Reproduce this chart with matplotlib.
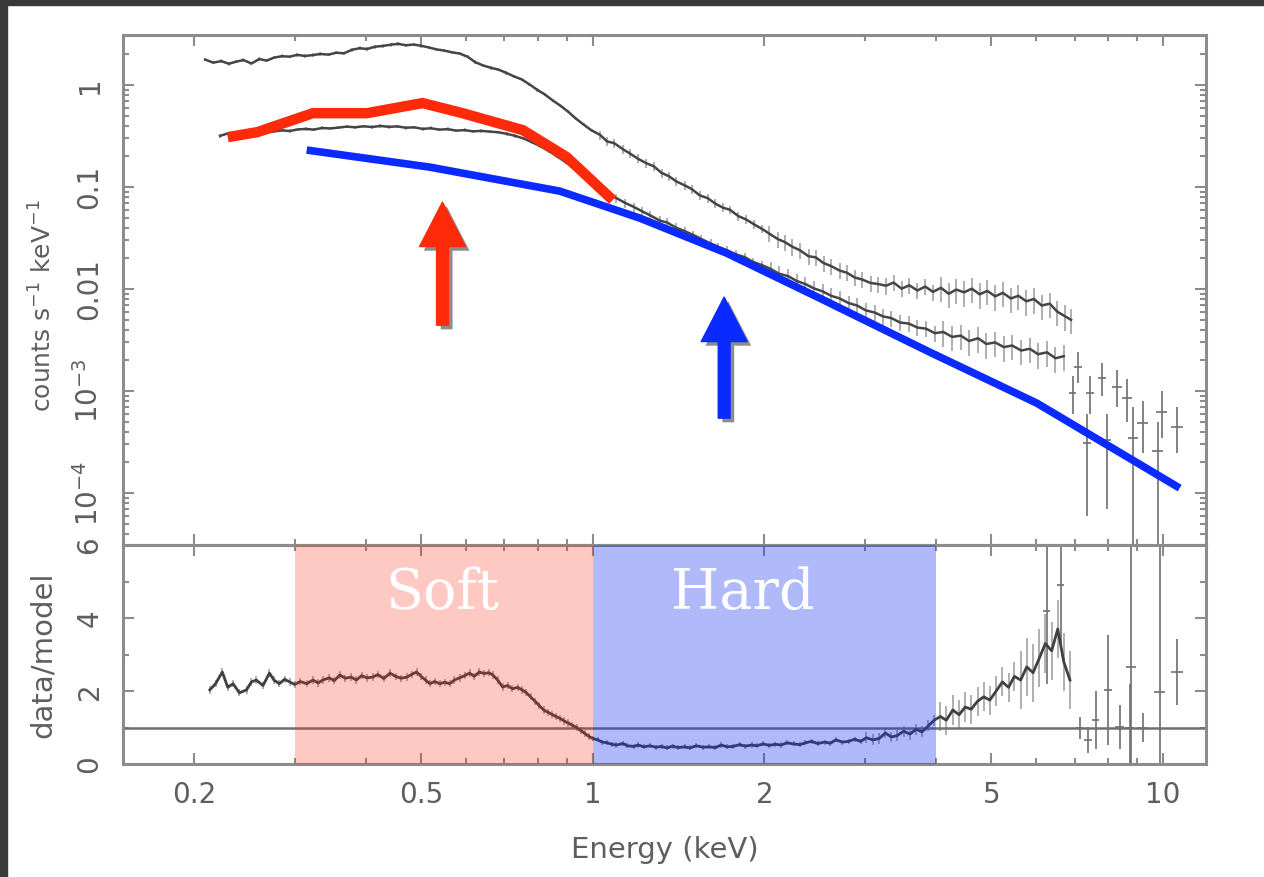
import numpy as np
import matplotlib
matplotlib.use("Agg")
import matplotlib.pyplot as plt
import matplotlib.patheffects as pe
from matplotlib.patches import Rectangle
from matplotlib.ticker import FixedLocator, FixedFormatter, LogLocator, MultipleLocator, NullFormatter

plt.rcParams["font.family"] = ["DejaVu Sans"]
plt.rcParams["mathtext.default"] = "regular"

# --- spectrum 1 (upper, counts s^-1 keV^-1) ---
up_e = [0.209, 0.216, 0.223, 0.230, 0.237, 0.244, 0.252, 0.260, 0.268, 0.276, 0.285, 0.294,
        0.303, 0.313, 0.323, 0.333, 0.344, 0.355, 0.366, 0.378, 0.390, 0.402, 0.415, 0.428,
        0.442, 0.456, 0.470, 0.485, 0.500, 0.516, 0.532, 0.549, 0.566, 0.584, 0.603, 0.622,
        0.642, 0.662, 0.683, 0.705, 0.727, 0.750, 0.774, 0.799, 0.824, 0.850, 0.877, 0.905,
        0.934, 0.964, 0.995, 1.03, 1.06, 1.09, 1.13, 1.16, 1.20, 1.24, 1.28, 1.32, 1.36,
        1.40, 1.45, 1.49, 1.54, 1.59, 1.64, 1.69, 1.74, 1.80, 1.86, 1.92, 1.98, 2.04, 2.11,
        2.17, 2.24, 2.31, 2.39, 2.46, 2.54, 2.62, 2.71, 2.79, 2.88, 2.97, 3.07, 3.17, 3.27,
        3.37, 3.48, 3.59, 3.71, 3.83, 3.95, 4.08, 4.21, 4.34, 4.48, 4.62, 4.77, 4.92, 5.08,
        5.24, 5.41, 5.58, 5.76, 5.94, 6.13, 6.33, 6.53, 6.74, 6.90]
up_f = [1.78, 1.66, 1.72, 1.62, 1.70, 1.76, 1.63, 1.80, 1.74, 1.86, 1.92, 1.90,
        1.98, 1.93, 1.97, 2.02, 1.99, 2.08, 2.05, 2.22, 2.30, 2.26, 2.38, 2.42,
        2.49, 2.54, 2.46, 2.50, 2.43, 2.34, 2.24, 2.18, 2.10, 2.04, 1.90, 1.68,
        1.56, 1.48, 1.42, 1.32, 1.22, 1.14, 1.02, 0.90, 0.81, 0.71, 0.63, 0.55,
        0.47, 0.41, 0.36, 0.325, 0.28, 0.27, 0.235, 0.215, 0.19, 0.172, 0.160, 0.138, 0.128,
        0.114, 0.104, 0.096, 0.083, 0.078, 0.069, 0.063, 0.060, 0.052, 0.048, 0.043, 0.039, 0.035, 0.031,
        0.029, 0.026, 0.024, 0.021, 0.0205, 0.018, 0.0168, 0.0152, 0.0145, 0.0130, 0.0124, 0.0115, 0.0112, 0.0108,
        0.0116, 0.0101, 0.0109, 0.0097, 0.0106, 0.0094, 0.0103, 0.0090, 0.0099, 0.0093, 0.0101, 0.0089, 0.0096, 0.0085,
        0.0092, 0.0081, 0.0086, 0.0076, 0.0080, 0.0069, 0.0072, 0.0060, 0.0054, 0.0050]

# --- spectrum 2 (lower) ---
lo_e = [0.222, 0.229, 0.236, 0.243, 0.251, 0.259, 0.267, 0.276, 0.285, 0.294, 0.304, 0.314,
        0.324, 0.335, 0.346, 0.358, 0.370, 0.383, 0.396, 0.410, 0.424, 0.439, 0.454, 0.470,
        0.486, 0.503, 0.520, 0.538, 0.557, 0.576, 0.596, 0.617, 0.638, 0.660, 0.683, 0.707,
        0.731, 0.756, 0.782, 0.809, 0.837, 0.866, 0.896, 0.927, 0.959, 0.992, 1.03, 1.06,
        1.10, 1.14, 1.18, 1.22, 1.26, 1.31, 1.35, 1.40, 1.45, 1.50, 1.55, 1.61, 1.66, 1.72,
        1.78, 1.85, 1.91, 1.98, 2.05, 2.12, 2.20, 2.28, 2.36, 2.44, 2.53, 2.62, 2.71, 2.81,
        2.91, 3.01, 3.12, 3.23, 3.34, 3.46, 3.58, 3.71, 3.84, 3.98, 4.12, 4.27, 4.42, 4.57,
        4.74, 4.90, 5.08, 5.26, 5.44, 5.64, 5.84, 6.04, 6.26, 6.48, 6.70]
lo_f = [0.318, 0.336, 0.326, 0.340, 0.332, 0.348, 0.341, 0.352, 0.360, 0.355, 0.368, 0.372,
        0.366, 0.380, 0.376, 0.383, 0.392, 0.386, 0.395, 0.388, 0.398, 0.390, 0.394, 0.382,
        0.386, 0.372, 0.378, 0.366, 0.370, 0.358, 0.362, 0.352, 0.356, 0.350, 0.345, 0.333,
        0.318, 0.300, 0.276, 0.252, 0.226, 0.200, 0.176, 0.152, 0.132, 0.112, 0.098, 0.086,
        0.078, 0.070, 0.064, 0.058, 0.053, 0.047, 0.045, 0.040, 0.037, 0.034, 0.031, 0.028, 0.026, 0.024,
        0.022, 0.0205, 0.0185, 0.0172, 0.0158, 0.0142, 0.0134, 0.0120, 0.0112, 0.0102, 0.0095, 0.0086, 0.0081, 0.0073,
        0.0069, 0.0062, 0.0059, 0.0054, 0.0052, 0.0047, 0.0046, 0.0042, 0.0041, 0.0037, 0.0038, 0.0034, 0.0035, 0.0031,
        0.0033, 0.0029, 0.0030, 0.0027, 0.0028, 0.0025, 0.0026, 0.0023, 0.0024, 0.0021, 0.0022]

# fractional errors per energy band (edges in keV)
spec_err_edges = [1.0, 2.0, 4.0]
spec_err_frac = [0.04, 0.10, 0.18, 0.28]

# --- sparse high-energy bins ---
he_e = [6.95, 7.09, 7.36, 7.45, 7.82, 7.97, 8.30, 8.65, 8.86, 9.22, 9.80, 9.96, 10.6]
he_f = [0.00095, 0.00172, 0.00031, 0.00095, 0.00134, 0.00033, 0.00110, 0.00085, 0.00035, 0.00049, 0.00026, 0.00062, 0.00044]
he_lo = [0.0006, 0.0012, 0.00006, 0.0006, 0.0009, 0.00007, 0.0007, 0.0005, 0.00001, 0.00025, 0.00001, 0.00035, 0.00025]
he_hi = [0.0014, 0.0024, 0.0006, 0.0014, 0.0019, 0.0006, 0.0016, 0.0013, 0.0007, 0.0008, 0.0005, 0.0010, 0.0007]
he_dx = [0.10, 0.12, 0.12, 0.12, 0.14, 0.14, 0.16, 0.16, 0.18, 0.20, 0.22, 0.22, 0.25]

# --- ratio data/model ---
rat_e = [0.213, 0.218, 0.224, 0.229, 0.234, 0.240, 0.247, 0.252, 0.257, 0.264, 0.271, 0.276,
         0.282, 0.288, 0.294, 0.300, 0.307, 0.315, 0.323, 0.330, 0.336, 0.345, 0.352, 0.360,
         0.368, 0.377, 0.385, 0.393, 0.402, 0.411, 0.420, 0.430, 0.441, 0.451, 0.461, 0.472,
         0.482, 0.491, 0.500, 0.509, 0.518, 0.528, 0.539, 0.550, 0.561, 0.572, 0.584, 0.596,
         0.608, 0.620, 0.632, 0.645, 0.657, 0.668, 0.681, 0.695, 0.709, 0.723, 0.738, 0.752,
         0.765, 0.778, 0.792, 0.806, 0.820, 0.834, 0.848, 0.862, 0.876, 0.891, 0.906, 0.921,
         0.937, 0.952, 0.968, 0.984, 1.000,
         1.02, 1.04, 1.06, 1.08, 1.10, 1.13, 1.15, 1.18, 1.20, 1.23, 1.26, 1.29, 1.32, 1.35,
         1.38, 1.41, 1.45, 1.48, 1.52, 1.56, 1.60, 1.64, 1.68, 1.72, 1.76, 1.81, 1.85, 1.90,
         1.94, 1.99, 2.04, 2.09, 2.14, 2.19, 2.25, 2.31, 2.36, 2.42, 2.48, 2.55, 2.61, 2.67,
         2.74, 2.81, 2.88, 2.95, 3.02, 3.10, 3.18, 3.26, 3.34, 3.42, 3.51, 3.60, 3.69, 3.78,
         3.88, 3.97,
         4.07, 4.17, 4.28, 4.39, 4.50, 4.61, 4.73, 4.85, 4.97, 5.10, 5.23, 5.36, 5.49, 5.63,
         5.77, 5.92, 6.07, 6.22, 6.38, 6.54, 6.70, 6.87]
rat_v = [2.03, 2.20, 2.52, 2.10, 2.20, 1.95, 2.03, 2.25, 2.30, 2.15, 2.49, 2.30,
         2.20, 2.32, 2.25, 2.18, 2.26, 2.20, 2.30, 2.22, 2.30, 2.36, 2.28, 2.44,
         2.35, 2.38, 2.30, 2.42, 2.36, 2.38, 2.45, 2.34, 2.49, 2.40, 2.35, 2.38,
         2.46, 2.52, 2.40, 2.30, 2.20, 2.26, 2.20, 2.24, 2.20, 2.30, 2.36, 2.42,
         2.49, 2.40, 2.52, 2.48, 2.50, 2.44, 2.30, 2.11, 2.15, 2.06, 2.10, 2.03,
         1.95, 1.84, 1.72, 1.60, 1.48, 1.42, 1.36, 1.30, 1.25, 1.18, 1.12, 1.06,
         1.00, 0.92, 0.84, 0.76, 0.70,
         0.66, 0.60, 0.58, 0.54, 0.52, 0.56, 0.50, 0.48, 0.52, 0.47, 0.50, 0.46, 0.48, 0.44,
         0.49, 0.45, 0.47, 0.44, 0.50, 0.46, 0.47, 0.45, 0.52, 0.47, 0.48, 0.53, 0.49, 0.52,
         0.50, 0.55, 0.51, 0.54, 0.52, 0.58, 0.55, 0.53, 0.58, 0.62, 0.56, 0.60, 0.57, 0.66,
         0.60, 0.62, 0.68, 0.62, 0.72, 0.66, 0.70, 0.85, 0.74, 0.78, 0.90, 0.82, 0.95, 0.88,
         1.05, 1.20,
         1.30, 1.20, 1.48, 1.35, 1.56, 1.50, 1.72, 1.84, 1.75, 2.00, 2.25, 2.10, 2.40, 2.30,
         2.66, 2.50, 2.90, 3.30, 3.10, 3.70, 2.80, 2.30]
rat_err_edges = [1.0, 3.0, 4.0, 5.5]
rat_err_abs = [0.10, 0.07, 0.15, 0.40, 0.80]

rs_e = [6.25, 6.62, 7.15, 7.38, 7.62, 8.01, 8.40, 8.75, 8.80, 9.22, 9.88, 10.6]
rs_v = [4.20, 4.90, 0.99, 0.66, 1.20, 2.03, 1.01, 0.99, 2.66, 0.99, 1.97, 2.52]
rs_err = [2.0, 1.6, 0.30, 0.35, 0.80, 1.50, 0.60, 1.20, 3.50, 0.40, 4.50, 0.90]
rs_dx = [0.08, 0.09, 0.10, 0.12, 0.12, 0.14, 0.16, 0.16, 0.18, 0.20, 0.22, 0.25]

# --- hand-drawn annotation lines and arrows ---
red_e = [0.229, 0.258, 0.323, 0.402, 0.503, 0.591, 0.754, 0.900, 1.084]
red_f = [0.309, 0.346, 0.531, 0.531, 0.667, 0.531, 0.362, 0.197, 0.0746]
blue_e = [0.315, 0.518, 0.875, 1.209, 1.718, 2.50, 3.90, 6.01, 10.7]
blue_f = [0.231, 0.157, 0.0914, 0.0497, 0.0225, 0.00816, 0.00241, 0.000762, 0.000112]
red_arrow = (0.545, 0.0713, 0.00443)   # energy, tip, tail
blue_arrow = (1.70, 0.00835, 0.000543)

bands = {"Soft": (0.3, 1.0), "Hard": (1.0, 4.0)}
band_text_x = {"Soft": 0.545, "Hard": 1.83}

xticks = [0.2, 0.5, 1, 2, 5, 10]
xtick_labels = ["0.2", "0.5", "1", "2", "5", "10"]
ytick_top = [1e-4, 1e-3, 0.01, 0.1, 1]
ytick_top_labels = ["10$^{-4}$", "10$^{-3}$", "0.01", "0.1", "1"]

RED = "#ff2a0a"
BLUE = "#0a2aff"
GREY = "#8c8c8c"
TXT = "#5e5e5e"

fig = plt.figure(figsize=(12.64, 8.77), dpi=100)
W, H = 1264, 877
ax1 = fig.add_axes([123 / W, 1 - 545 / H, 1083 / W, 510 / H])
ax2 = fig.add_axes([123 / W, 1 - 764 / H, 1083 / W, 219 / H], sharex=ax1)

# dark frame (screenshot border)
fig.patches.append(Rectangle((0, 1 - 5 / H), 1, 5 / H, transform=fig.transFigure, color="#3a3a3a", zorder=0))
fig.patches.append(Rectangle((0, 0), 7 / W, 1, transform=fig.transFigure, color="#3a3a3a", zorder=0))

up_e = np.array(up_e); up_f = np.array(up_f)
lo_e = np.array(lo_e); lo_f = np.array(lo_f)
frac = np.array(spec_err_frac)
for e, f in [(up_e, up_f), (lo_e, lo_f)]:
    err = f * frac[np.digitize(e, spec_err_edges)]
    ax1.errorbar(e, f, yerr=err, fmt="none", ecolor="#8a8a8a", elinewidth=1.2, alpha=0.8, zorder=2)
    ax1.plot(e, f, color="#454545", lw=1.8, zorder=3)

he_f = np.array(he_f)
ax1.errorbar(he_e, he_f, yerr=[he_f - np.array(he_lo), np.array(he_hi) - he_f], xerr=he_dx,
             fmt="none", ecolor="#6e6e6e", elinewidth=1.2, zorder=2)

# annotation lines
ax1.plot(red_e, red_f, color=RED, lw=7.5, solid_joinstyle="miter", solid_capstyle="butt", zorder=5)
ax1.plot(blue_e, blue_f, color=BLUE, lw=5.5, solid_joinstyle="miter", solid_capstyle="butt", zorder=5)

shadow = [pe.SimplePatchShadow(offset=(3, -3), shadow_rgbFace="k", alpha=0.45), pe.Normal()]
for (ex, tip, tail), col in [(red_arrow, RED), (blue_arrow, BLUE)]:
    ax1.annotate("", xy=(ex, tip), xytext=(ex, tail),
                 arrowprops=dict(arrowstyle="simple,head_length=32,head_width=33,tail_width=8.5",
                                 mutation_scale=1, color=col, shrinkA=0, shrinkB=0,
                                 path_effects=shadow), zorder=6)

ax1.set_xscale("log")
ax1.set_yscale("log")
ax1.set_xlim(0.15, 11.9)
ax1.set_ylim(3.1e-5, 3.1)
ax1.yaxis.set_major_locator(FixedLocator(ytick_top))
ax1.yaxis.set_major_formatter(FixedFormatter(ytick_top_labels))
ax1.yaxis.set_minor_locator(LogLocator(base=10, subs=range(2, 10), numticks=20))
ax1.yaxis.set_minor_formatter(NullFormatter())
ax1.set_ylabel("counts s$^{-1}$ keV$^{-1}$", fontsize=18, color=TXT)
ax1.yaxis.set_label_coords(-0.061, 0.47)
plt.setp(ax1.get_xticklabels(which="both"), visible=False)

# ratio panel
rat_e = np.array(rat_e); rat_v = np.array(rat_v)
rerr = np.array(rat_err_abs)[np.digitize(rat_e, rat_err_edges)]
ax2.errorbar(rat_e, rat_v, yerr=rerr, fmt="none", ecolor="#8a8a8a", elinewidth=1.2, alpha=0.8, zorder=2)
ax2.plot(rat_e, rat_v, color="#404040", lw=2.0, zorder=3)
ax2.errorbar(rs_e, rs_v, yerr=rs_err, xerr=rs_dx, fmt="none", ecolor="#6e6e6e", elinewidth=1.2, zorder=2)
ax2.axhline(1, color="#707070", lw=1.8, zorder=2)

ax2.axvspan(*bands["Soft"], color="#ff2a10", alpha=0.25, lw=0, zorder=4)
ax2.axvspan(*bands["Hard"], color="#1030f5", alpha=0.33, lw=0, zorder=4)
for name in bands:
    ax2.text(band_text_x[name], 4.68, name, color="white", fontsize=40, family="DejaVu Serif",
             ha="center", va="center", zorder=6)

ax2.set_ylim(0, 6)
ax2.yaxis.set_major_locator(FixedLocator([0, 2, 4, 6]))
ax2.yaxis.set_minor_locator(MultipleLocator(1))
ax2.xaxis.set_major_locator(FixedLocator(xticks))
ax2.xaxis.set_major_formatter(FixedFormatter(xtick_labels))
ax2.xaxis.set_minor_locator(LogLocator(base=10, subs=range(2, 10), numticks=20))
ax2.xaxis.set_minor_formatter(NullFormatter())
ax2.set_ylabel("data/model", fontsize=21, color=TXT)
ax2.yaxis.set_label_coords(-0.061, 0.5)
ax2.set_xlabel("Energy (keV)", fontsize=21, color=TXT)
ax2.xaxis.set_label_coords(0.5, -0.33)

for ax in (ax1, ax2):
    for sp in ax.spines.values():
        sp.set_color(GREY)
        sp.set_linewidth(2.2)
    ax.tick_params(which="both", direction="in", top=True, right=True, color=GREY, width=1.5,
                   labelcolor=TXT, labelsize=20)
    ax.tick_params(which="major", length=8)
    ax.tick_params(which="minor", length=4)
    ax.tick_params(axis="y", pad=14)
    ax.tick_params(axis="x", pad=12)
    for lab in ax.get_yticklabels():
        lab.set_rotation(90)
        lab.set_va("center")

fig.savefig("out.png", dpi=100, facecolor="white")
